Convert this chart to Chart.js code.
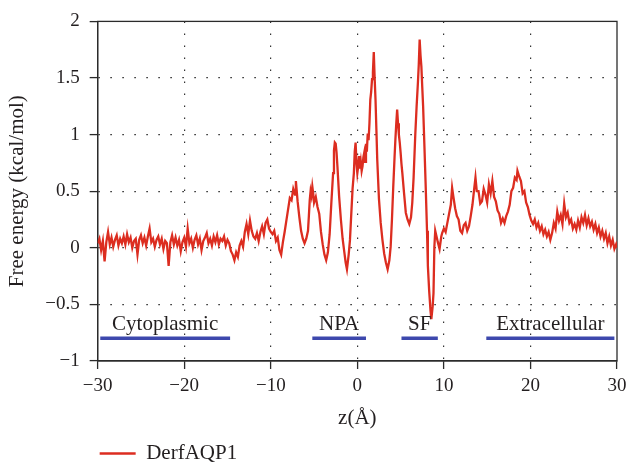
<!DOCTYPE html>
<html><head><meta charset="utf-8">
<script src="https://cdn.jsdelivr.net/npm/chart.js@4/dist/chart.umd.min.js"></script>
<style>html,body{margin:0;padding:0;background:#fff}#wrap{width:627px;height:462px}</style>
</head><body><div id="wrap"><canvas id="c" width="627" height="462"></canvas></div>
<script>
// ---- data ----
const seriesName = 'DerfAQP1';
const zPos = [
-30.0,-29.8,-29.6,-29.4,-29.2,-29.0,-28.8,-28.6,-28.4,-28.2,
-28.0,-27.8,-27.6,-27.4,-27.2,-27.0,-26.8,-26.6,-26.4,-26.2,
-26.0,-25.8,-25.6,-25.4,-25.2,-25.0,-24.8,-24.6,-24.4,-24.2,
-24.0,-23.8,-23.6,-23.4,-23.2,-23.0,-22.8,-22.6,-22.4,-22.2,
-22.0,-21.8,-21.6,-21.4,-21.2,-21.0,-20.8,-20.6,-20.4,-20.2,
-20.0,-19.8,-19.6,-19.4,-19.2,-19.0,-18.8,-18.6,-18.4,-18.2,
-18.0,-17.8,-17.6,-17.4,-17.2,-17.0,-16.8,-16.6,-16.4,-16.2,
-16.0,-15.8,-15.6,-15.4,-15.2,-15.0,-14.8,-14.6,
-14.4,-14.2,-14.0,-13.8,-13.6,-13.4,-13.2,-13.0,-12.8,-12.6,
-12.4,-12.2,-12.0,-11.8,-11.6,-11.4,-11.2,-11.0,-10.8,-10.6,
-10.4,-10.2,-10.0,-9.8,-9.6,-9.4,-9.2,-9.0,-8.8,-8.6,
-8.4,-8.2,-8.0,-7.8,-7.6,-7.4,
-7.2,-7.1,-7.0,-6.9,-6.7,-6.5,-6.3,-6.1,-5.9,-5.7,
-5.6,-5.5,-5.4,-5.3,-5.2,-5.1,-5.0,-4.8,-4.6,-4.4,
-4.2,-4.0,-3.8,-3.6,-3.4,-3.2,-3.0,-2.8,-2.7,-2.6,
-2.5,-2.4,-2.3,
-2.1,-1.9,-1.7,-1.5,-1.35,-1.2,-1.0,-0.85,-0.7,-0.55,
-0.4,-0.3,-0.2,-0.1,0.0,0.1,0.2,0.3,0.4,0.5,
0.6,0.7,0.8,0.9,1.0,1.1,1.2,1.3,1.4,1.5,
1.6,1.7,1.8,1.9,2.0,2.1,2.2,2.3,
2.5,2.7,2.9,3.1,3.3,3.5,3.7,3.85,4.0,4.15,
4.3,4.4,4.5,4.6,4.7,4.8,4.9,5.0,5.1,5.2,
5.4,5.6,5.8,6.0,6.2,6.35,6.5,6.7,6.85,7.0,
7.1,7.2,7.3,7.4,7.5,7.6,7.75,7.9,8.05,8.15,
8.3,8.45,8.55,8.7,8.8,8.9,9.0,
9.15,9.3,9.5,9.7,9.8,10.0,10.2,10.4,10.6,10.8,
10.95,11.1,11.3,11.5,11.7,11.9,12.1,12.3,12.5,12.7,
12.9,13.1,13.3,13.5,13.65,13.8,14.0,14.2,14.4,14.6,
14.8,15.0,15.2,15.4,15.6,15.8,16.0,16.2,16.4,16.6,
16.8,17.0,17.2,17.4,17.6,17.8,18.0,18.2,18.4,18.5,
18.7,18.9,19.1,19.3,19.5,19.7,19.9,
20.1,20.3,20.5,20.7,20.9,21.1,21.3,21.5,21.7,21.9,
22.1,22.3,22.5,22.7,22.9,23.1,23.3,23.5,23.7,23.9,
24.1,24.3,24.5,24.7,24.9,25.1,25.3,25.5,25.7,25.9,
26.1,26.3,26.5,26.7,26.9,27.1,27.3,27.5,27.7,27.9,
28.1,28.3,28.5,28.7,28.9,29.1,29.3,29.5,29.7,29.9,30.0
];
const energy = [
0.04,0.08,-0.02,0.06,-0.12,0.05,0.14,0.03,0.09,0.01,
0.07,0.11,0.02,0.08,0.04,0.10,0.03,0.12,0.05,0.09,
0.00,0.06,0.08,-0.06,0.07,0.11,0.04,0.09,0.02,0.10,
0.17,0.05,0.08,0.01,0.07,0.10,0.03,0.08,-0.01,0.06,
0.04,-0.16,0.05,0.11,0.03,0.09,0.02,0.07,-0.03,0.05,
0.09,0.01,0.17,0.04,0.08,0.00,0.07,0.11,0.03,0.08,
-0.02,0.06,0.09,0.13,0.04,0.08,0.02,0.10,0.05,0.11,
0.03,0.08,0.06,0.10,0.02,0.07,0.04,-0.03,
-0.06,-0.11,-0.04,-0.08,0.02,0.06,0.01,0.14,0.21,0.12,
0.24,0.15,0.10,0.08,0.13,0.06,0.14,0.19,0.12,0.22,
0.25,0.17,0.14,0.12,0.15,0.06,0.09,-0.02,-0.06,0.05,
0.14,0.24,0.34,0.44,0.42,0.52,
0.47,0.59,0.50,0.41,0.27,0.15,0.08,0.04,0.08,0.15,
0.28,0.42,0.50,0.46,0.54,0.48,0.40,0.45,0.36,0.30,
0.14,0.03,-0.06,-0.11,-0.04,0.12,0.40,0.66,0.86,0.93,
0.92,0.84,0.72,
0.45,0.25,0.08,-0.04,-0.13,-0.19,-0.06,0.07,0.30,0.52,
0.66,0.85,0.93,0.75,0.66,0.72,0.81,0.70,0.76,0.68,
0.72,0.80,0.84,0.76,0.92,0.85,1.01,0.95,1.10,1.31,
1.38,1.49,1.55,1.73,1.50,1.31,1.05,0.78,
0.43,0.22,0.07,-0.05,-0.13,-0.19,-0.11,0.01,0.25,0.54,
0.80,0.96,1.10,1.22,1.10,1.00,0.93,0.84,0.74,0.66,
0.48,0.31,0.25,0.21,0.27,0.40,0.62,1.01,1.25,1.46,
1.62,1.84,1.70,1.60,1.42,1.25,0.90,0.54,0.15,-0.16,
-0.38,-0.55,-0.63,-0.52,-0.40,0.01,0.15,
0.10,0.05,-0.01,0.10,0.13,0.17,0.14,0.22,0.30,0.38,
0.53,0.45,0.35,0.28,0.25,0.15,0.13,0.20,0.22,0.15,
0.19,0.28,0.38,0.52,0.62,0.50,0.50,0.39,0.41,0.52,
0.47,0.40,0.56,0.48,0.59,0.45,0.41,0.33,0.30,0.22,
0.26,0.22,0.28,0.32,0.38,0.50,0.53,0.62,0.60,0.68,
0.63,0.59,0.48,0.50,0.40,0.36,0.29,
0.24,0.21,0.25,0.18,0.22,0.15,0.19,0.12,0.16,0.10,
0.14,0.07,0.13,0.22,0.17,0.32,0.24,0.29,0.21,0.39,
0.27,0.31,0.22,0.25,0.17,0.21,0.16,0.24,0.18,0.27,
0.22,0.29,0.20,0.26,0.19,0.23,0.16,0.21,0.13,0.18,
0.10,0.15,0.08,0.13,0.04,0.10,0.02,0.07,-0.01,0.03,0.00
];
const regionNames = ['Cytoplasmic', 'NPA', 'SF', 'Extracellular'];
const regionStart = [-29.7, -5.2, 5.1, 14.9];
const regionEnd   = [-14.7, 1.0, 9.3, 29.7];
const regionLevel = [-0.8, -0.8, -0.8, -0.8];
const xTicks = [-30, -20, -10, 0, 10, 20, 30];
const yTicks = [-1, -0.5, 0, 0.5, 1, 1.5, 2];
const xTitle = 'z(Å)';
const yTitle = 'Free energy (kcal/mol)';

// ---- styling ----
const FONT = "'Liberation Serif', 'Times New Roman', serif";
const TXT = '#231f20';
const AX = '#2b2b2b';
const RED = '#dc2d20';
const BLUE = '#3d48ad';
Chart.defaults.font.family = FONT;
Chart.defaults.color = TXT;

const minusFmt = v => String(v).replace('-', '\u2212');

const datasets = [{
  label: seriesName,
  data: zPos.map((z, i) => ({x: z, y: energy[i]})),
  borderColor: RED,
  backgroundColor: RED,
  borderWidth: 2.3,
  pointRadius: 0,
  pointStyle: 'line',
  tension: 0,
  order: 0
}];
regionNames.forEach((name, i) => {
  datasets.push({
    label: name,
    data: [{x: regionStart[i], y: regionLevel[i]}, {x: regionEnd[i], y: regionLevel[i]}],
    borderColor: BLUE,
    backgroundColor: BLUE,
    borderWidth: 3.5,
    pointRadius: 0,
    order: 1
  });
});

const framePlugin = {
  id: 'frame',
  beforeDatasetsDraw(chart) {
    const a = chart.chartArea, ctx = chart.ctx;
    ctx.save();
    ctx.strokeStyle = AX;
    ctx.lineWidth = 1.3;
    ctx.strokeRect(a.left, a.top, a.right - a.left, a.bottom - a.top);
    ctx.restore();
  }
};
const regionLabelPlugin = {
  id: 'regionLabels',
  afterDatasetsDraw(chart) {
    const {ctx, scales: {x, y}} = chart;
    ctx.save();
    ctx.font = "21px " + FONT;
    ctx.fillStyle = TXT;
    ctx.textAlign = 'center';
    ctx.textBaseline = 'alphabetic';
    regionNames.forEach((name, i) => {
      const cx = x.getPixelForValue((regionStart[i] + regionEnd[i]) / 2);
      const cy = y.getPixelForValue(regionLevel[i]) - 8;
      ctx.fillText(name, cx, cy);
    });
    ctx.restore();
  }
};

const gridCfg = (edges) => ({
  display: true,
  drawOnChartArea: true,
  drawTicks: true,
  tickLength: 8,
  tickColor: AX,
  tickWidth: 1.3,
  lineWidth: 1.2,
  color: c => (c.tick && edges.includes(c.tick.value)) ? 'rgba(0,0,0,0)' : '#333'
});

new Chart(document.getElementById('c'), {
  type: 'line',
  data: {datasets},
  options: {
    responsive: false,
    devicePixelRatio: 1,
    animation: false,
    layout: {padding: {left: 5, right: 10, top: 21, bottom: -12}},
    scales: {
      x: {
        type: 'linear', min: -30, max: 30,
        afterBuildTicks: s => { s.ticks = xTicks.map(v => ({value: v})); },
        afterFit: s => { s.paddingRight = 0; },
        ticks: {font: {size: 19}, color: TXT, padding: 6, maxRotation: 0, callback: minusFmt},
        grid: gridCfg([-30, 30]),
        border: {display: true, color: AX, width: 1.3, dash: [1.6, 10.4]},
        title: {display: true, text: xTitle, font: {size: 21}, color: TXT, padding: {top: 2, bottom: 10}}
      },
      y: {
        type: 'linear', min: -1, max: 2,
        afterBuildTicks: s => { s.ticks = yTicks.map(v => ({value: v})); },
        ticks: {font: {size: 19}, color: TXT, padding: 10, callback: minusFmt},
        grid: gridCfg([-1, 2]),
        border: {display: true, color: AX, width: 1.3, dash: [1.6, 10.4]},
        title: {display: true, text: yTitle, font: {size: 21}, color: TXT, padding: {top: 0, bottom: 5}}
      }
    },
    plugins: {
      legend: {
        position: 'bottom', align: 'start', fullSize: false,
        labels: {
          usePointStyle: true, pointStyleWidth: 36, padding: 2,
          font: {size: 21}, color: TXT,
          filter: item => item.datasetIndex === 0
        }
      },
      tooltip: {enabled: false}
    }
  },
  plugins: [framePlugin, regionLabelPlugin]
});
</script></body></html>
